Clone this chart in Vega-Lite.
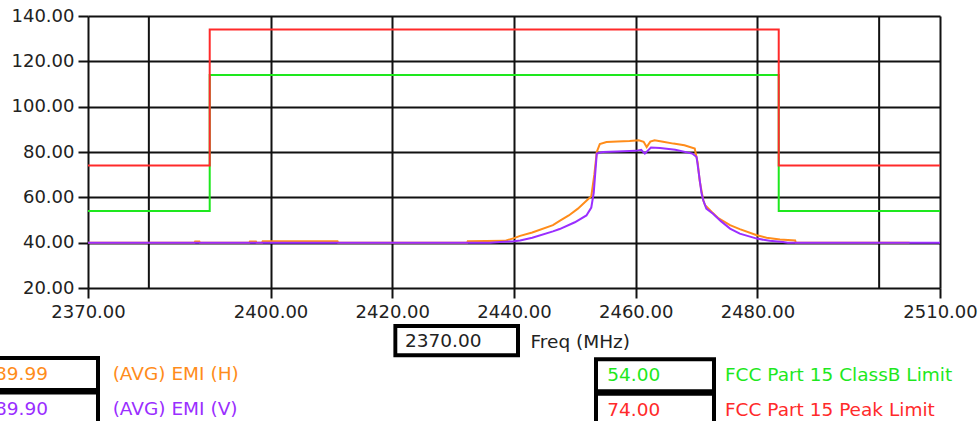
{
  "$schema": "https://vega.github.io/schema/vega-lite/v6.json",
  "autosize": {"type": "none"},
  "padding": {"left": 88, "top": 16, "right": 38, "bottom": 133},
  "width": 852,
  "height": 272,
  "background": "white",
  "config": {
    "view": {"stroke": null},
    "font": "DejaVu Sans",
    "axis": {
      "labelFont": "DejaVu Sans",
      "labelFontSize": 18,
      "labelColor": "#222",
      "gridColor": "#111",
      "gridWidth": 2,
      "gridOpacity": 1,
      "tickColor": "#111",
      "tickWidth": 2,
      "tickOpacity": 1,
      "domain": false,
      "labelOverlap": false,
      "labelFlush": false,
      "labelBound": false
    },
    "legend": {
      "orient": "none",
      "padding": 0,
      "labelFont": "DejaVu Sans",
      "labelFontSize": 18.5,
      "labelLimit": 600,
      "symbolSize": 900,
      "symbolStrokeWidth": 4,
      "symbolOpacity": 1,
      "symbolOffset": 0
    }
  },
  "resolve": {"scale": {"shape": "independent"}, "legend": {"shape": "independent"}},
  "layer": [
    {
      "data": {"values": [{"freq": 2380}, {"freq": 2500}]},
      "mark": {"type": "rule", "color": "#111", "strokeWidth": 2},
      "encoding": {
        "x": {
          "field": "freq", "type": "quantitative",
          "scale": {"domain": [2370, 2510], "nice": false, "zero": false},
          "axis": {
            "values": [2370, 2400, 2420, 2440, 2460, 2480, 2510],
            "format": ".2f",
            "grid": true,
            "ticks": true,
            "tickSize": 10,
            "labelPadding": 5,
            "title": "Freq (MHz)",
            "titleFont": "DejaVu Sans",
            "titleFontSize": 18.5,
            "titleFontWeight": "normal",
            "titleColor": "#222",
            "titleAlign": "left",
            "titleBaseline": "middle",
            "titleX": 442,
            "titleY": 53.5
          }
        }
      }
    },
    {
      "data": {"values": [
        {"series": "FCC Part 15 ClassB Limit", "freq": 2370, "level": 54},
        {"series": "FCC Part 15 ClassB Limit", "freq": 2390, "level": 114},
        {"series": "FCC Part 15 ClassB Limit", "freq": 2483.5, "level": 54},
        {"series": "FCC Part 15 ClassB Limit", "freq": 2510, "level": 54},
        {"series": "FCC Part 15 Peak Limit", "freq": 2370, "level": 74},
        {"series": "FCC Part 15 Peak Limit", "freq": 2390, "level": 134},
        {"series": "FCC Part 15 Peak Limit", "freq": 2483.5, "level": 74},
        {"series": "FCC Part 15 Peak Limit", "freq": 2510, "level": 74}
      ]},
      "mark": {"type": "line", "interpolate": "step-after", "strokeWidth": 2},
      "encoding": {
        "x": {"field": "freq", "type": "quantitative"},
        "y": {
          "field": "level", "type": "quantitative",
          "scale": {"domain": [20, 140], "nice": false, "zero": false},
          "axis": {
            "values": [20, 40, 60, 80, 100, 120, 140],
            "format": ".2f",
            "grid": true,
            "ticks": true,
            "tickSize": 10,
            "labelPadding": 4,
            "title": null
          }
        },
        "stroke": {
          "field": "series", "type": "nominal",
          "scale": {"domain": ["FCC Part 15 ClassB Limit", "FCC Part 15 Peak Limit"], "range": ["#1ee81e", "#ff2a2a"]},
          "legend": null
        }
      }
    },
    {
      "data": {"values": [
        {"series": "(AVG) EMI (H)", "freq": 2370, "level": 40},
        {"series": "(AVG) EMI (H)", "freq": 2387.5, "level": 40},
        {"series": "(AVG) EMI (H)", "freq": 2387.6, "level": 40.5},
        {"series": "(AVG) EMI (H)", "freq": 2388.3, "level": 40.5},
        {"series": "(AVG) EMI (H)", "freq": 2388.4, "level": 40},
        {"series": "(AVG) EMI (H)", "freq": 2396.5, "level": 40},
        {"series": "(AVG) EMI (H)", "freq": 2396.6, "level": 40.5},
        {"series": "(AVG) EMI (H)", "freq": 2397.6, "level": 40.5},
        {"series": "(AVG) EMI (H)", "freq": 2397.7, "level": 40},
        {"series": "(AVG) EMI (H)", "freq": 2398.6, "level": 40},
        {"series": "(AVG) EMI (H)", "freq": 2398.7, "level": 40.6},
        {"series": "(AVG) EMI (H)", "freq": 2411, "level": 40.6},
        {"series": "(AVG) EMI (H)", "freq": 2411.1, "level": 40},
        {"series": "(AVG) EMI (H)", "freq": 2432.3, "level": 40},
        {"series": "(AVG) EMI (H)", "freq": 2432.4, "level": 40.6},
        {"series": "(AVG) EMI (H)", "freq": 2438.5, "level": 40.8},
        {"series": "(AVG) EMI (H)", "freq": 2440, "level": 42.0},
        {"series": "(AVG) EMI (H)", "freq": 2441, "level": 43.0},
        {"series": "(AVG) EMI (H)", "freq": 2443, "level": 44.5},
        {"series": "(AVG) EMI (H)", "freq": 2446.4, "level": 47.7},
        {"series": "(AVG) EMI (H)", "freq": 2447.5, "level": 49.6},
        {"series": "(AVG) EMI (H)", "freq": 2449, "level": 52.0},
        {"series": "(AVG) EMI (H)", "freq": 2450.5, "level": 55.0},
        {"series": "(AVG) EMI (H)", "freq": 2451.9, "level": 58.5},
        {"series": "(AVG) EMI (H)", "freq": 2452.7, "level": 60.5},
        {"series": "(AVG) EMI (H)", "freq": 2453.2, "level": 70},
        {"series": "(AVG) EMI (H)", "freq": 2453.6, "level": 80},
        {"series": "(AVG) EMI (H)", "freq": 2454.1, "level": 83.5},
        {"series": "(AVG) EMI (H)", "freq": 2455.2, "level": 84.4},
        {"series": "(AVG) EMI (H)", "freq": 2457, "level": 84.6},
        {"series": "(AVG) EMI (H)", "freq": 2459, "level": 84.8},
        {"series": "(AVG) EMI (H)", "freq": 2460.5, "level": 85.2},
        {"series": "(AVG) EMI (H)", "freq": 2461.3, "level": 84.5},
        {"series": "(AVG) EMI (H)", "freq": 2461.8, "level": 82.2},
        {"series": "(AVG) EMI (H)", "freq": 2462.4, "level": 84.6},
        {"series": "(AVG) EMI (H)", "freq": 2463.1, "level": 85.2},
        {"series": "(AVG) EMI (H)", "freq": 2464.5, "level": 84.5},
        {"series": "(AVG) EMI (H)", "freq": 2466.2, "level": 83.7},
        {"series": "(AVG) EMI (H)", "freq": 2468, "level": 83.0},
        {"series": "(AVG) EMI (H)", "freq": 2469.7, "level": 81.5},
        {"series": "(AVG) EMI (H)", "freq": 2470.2, "level": 75},
        {"series": "(AVG) EMI (H)", "freq": 2470.5, "level": 67.5},
        {"series": "(AVG) EMI (H)", "freq": 2471.1, "level": 58.7},
        {"series": "(AVG) EMI (H)", "freq": 2471.4, "level": 56.5},
        {"series": "(AVG) EMI (H)", "freq": 2472.5, "level": 53.5},
        {"series": "(AVG) EMI (H)", "freq": 2473.5, "level": 51.0},
        {"series": "(AVG) EMI (H)", "freq": 2475.5, "level": 47.7},
        {"series": "(AVG) EMI (H)", "freq": 2477.1, "level": 46.0},
        {"series": "(AVG) EMI (H)", "freq": 2479.9, "level": 43.3},
        {"series": "(AVG) EMI (H)", "freq": 2481.5, "level": 42.2},
        {"series": "(AVG) EMI (H)", "freq": 2483.7, "level": 41.4},
        {"series": "(AVG) EMI (H)", "freq": 2486.2, "level": 41.0},
        {"series": "(AVG) EMI (H)", "freq": 2486.3, "level": 40.1},
        {"series": "(AVG) EMI (H)", "freq": 2505, "level": 40},
        {"series": "(AVG) EMI (V)", "freq": 2370, "level": 40},
        {"series": "(AVG) EMI (V)", "freq": 2436, "level": 40},
        {"series": "(AVG) EMI (V)", "freq": 2437.7, "level": 40.3},
        {"series": "(AVG) EMI (V)", "freq": 2440, "level": 40.6},
        {"series": "(AVG) EMI (V)", "freq": 2441, "level": 41.0},
        {"series": "(AVG) EMI (V)", "freq": 2443, "level": 42.2},
        {"series": "(AVG) EMI (V)", "freq": 2446.4, "level": 45.0},
        {"series": "(AVG) EMI (V)", "freq": 2447.5, "level": 46.0},
        {"series": "(AVG) EMI (V)", "freq": 2450, "level": 49.0},
        {"series": "(AVG) EMI (V)", "freq": 2451.9, "level": 52.0},
        {"series": "(AVG) EMI (V)", "freq": 2452.7, "level": 55.5},
        {"series": "(AVG) EMI (V)", "freq": 2453.1, "level": 62},
        {"series": "(AVG) EMI (V)", "freq": 2453.6, "level": 79.3},
        {"series": "(AVG) EMI (V)", "freq": 2454.6, "level": 80.0},
        {"series": "(AVG) EMI (V)", "freq": 2457, "level": 80.2},
        {"series": "(AVG) EMI (V)", "freq": 2460, "level": 80.5},
        {"series": "(AVG) EMI (V)", "freq": 2460.9, "level": 81.0},
        {"series": "(AVG) EMI (V)", "freq": 2461.5, "level": 79.3},
        {"series": "(AVG) EMI (V)", "freq": 2462.5, "level": 82.0},
        {"series": "(AVG) EMI (V)", "freq": 2464, "level": 81.8},
        {"series": "(AVG) EMI (V)", "freq": 2466.5, "level": 81.0},
        {"series": "(AVG) EMI (V)", "freq": 2469.3, "level": 79.3},
        {"series": "(AVG) EMI (V)", "freq": 2470, "level": 77.8},
        {"series": "(AVG) EMI (V)", "freq": 2470.4, "level": 70},
        {"series": "(AVG) EMI (V)", "freq": 2470.8, "level": 62},
        {"series": "(AVG) EMI (V)", "freq": 2471.1, "level": 58.7},
        {"series": "(AVG) EMI (V)", "freq": 2471.6, "level": 55.0},
        {"series": "(AVG) EMI (V)", "freq": 2472.7, "level": 52.8},
        {"series": "(AVG) EMI (V)", "freq": 2474, "level": 49.5},
        {"series": "(AVG) EMI (V)", "freq": 2475.5, "level": 46.2},
        {"series": "(AVG) EMI (V)", "freq": 2477.1, "level": 44.0},
        {"series": "(AVG) EMI (V)", "freq": 2479.9, "level": 41.8},
        {"series": "(AVG) EMI (V)", "freq": 2482, "level": 40.8},
        {"series": "(AVG) EMI (V)", "freq": 2484.2, "level": 40.3},
        {"series": "(AVG) EMI (V)", "freq": 2485, "level": 40},
        {"series": "(AVG) EMI (V)", "freq": 2510, "level": 40}
      ]},
      "mark": {"type": "line", "strokeWidth": 2},
      "encoding": {
        "x": {"field": "freq", "type": "quantitative"},
        "y": {"field": "level", "type": "quantitative"},
        "color": {
          "field": "series", "type": "nominal",
          "scale": {"domain": ["(AVG) EMI (H)", "(AVG) EMI (V)"], "range": ["#ff8c1a", "#9a2eff"]},
          "legend": null
        }
      }
    },
    {
      "data": {"values": []},
      "mark": {"type": "point", "filled": true, "opacity": 1, "color": "black", "strokeWidth": 4},
      "encoding": {
        "shape": {
          "field": "series", "type": "nominal",
          "scale": {"domain": ["(AVG) EMI (H)"], "range": ["M-1.133,-1.2H6.8V1.2H-1.133ZM-0.867,-0.933V0.933H6.533V-0.933Z"]},
          "legend": {"title": null, "legendX": -107, "legendY": 341, "labelOffset": -20, "labelColor": "#ff8c1a",
            "labelExpr": "'89.99\u00a0\u00a0\u00a0\u00a0\u00a0\u00a0\u00a0\u00a0\u00a0\u00a0\u00a0' + datum.label"}
        }
      }
    },
    {
      "data": {"values": []},
      "mark": {"type": "point", "filled": true, "opacity": 1, "color": "black", "strokeWidth": 4},
      "encoding": {
        "shape": {
          "field": "series", "type": "nominal",
          "scale": {"domain": ["(AVG) EMI (V)"], "range": ["M-1.133,-1.2H6.8V1.2H-1.133ZM-0.867,-0.933V0.933H6.533V-0.933Z"]},
          "legend": {"title": null, "legendX": -107, "legendY": 375.5, "labelOffset": -20, "labelColor": "#9a2eff",
            "labelExpr": "'89.90\u00a0\u00a0\u00a0\u00a0\u00a0\u00a0\u00a0\u00a0\u00a0\u00a0\u00a0' + datum.label"}
        }
      }
    },
    {
      "data": {"values": []},
      "mark": {"type": "point", "filled": true, "opacity": 1, "color": "black", "strokeWidth": 4},
      "encoding": {
        "shape": {
          "field": "series", "type": "nominal",
          "scale": {"domain": ["FCC Part 15 ClassB Limit"], "range": ["M-1.133,-1.2H7V1.2H-1.133ZM-0.867,-0.933V0.933H6.733V-0.933Z"]},
          "legend": {"title": null, "legendX": 506, "legendY": 342.3, "labelOffset": -20.7, "labelColor": "#1ee81e",
            "labelExpr": "'54.00\u00a0\u00a0\u00a0\u00a0\u00a0\u00a0\u00a0\u00a0\u00a0\u00a0\u00a0' + datum.label"}
        }
      }
    },
    {
      "data": {"values": []},
      "mark": {"type": "point", "filled": true, "opacity": 1, "color": "black", "strokeWidth": 4},
      "encoding": {
        "shape": {
          "field": "series", "type": "nominal",
          "scale": {"domain": ["FCC Part 15 Peak Limit"], "range": ["M-1.133,-1.2H7V1.2H-1.133ZM-0.867,-0.933V0.933H6.733V-0.933Z"]},
          "legend": {"title": null, "legendX": 506, "legendY": 376.8, "labelOffset": -20.7, "labelColor": "#ff2a2a",
            "labelExpr": "'74.00\u00a0\u00a0\u00a0\u00a0\u00a0\u00a0\u00a0\u00a0\u00a0\u00a0\u00a0' + datum.label"}
        }
      }
    },
    {
      "data": {"values": []},
      "mark": {"type": "point", "filled": true, "opacity": 1, "color": "black", "strokeWidth": 4},
      "encoding": {
        "shape": {
          "field": "cursor", "type": "nominal",
          "scale": {"domain": ["2370.00"], "range": ["M-1.127,-1.11H7.313V1.11H-1.127ZM-0.867,-0.843V0.843H7.047V-0.843Z"]},
          "legend": {"title": null, "legendX": 305.3, "legendY": 307.7, "labelOffset": -22.3, "labelColor": "#222"}
        }
      }
    }
  ]
}
